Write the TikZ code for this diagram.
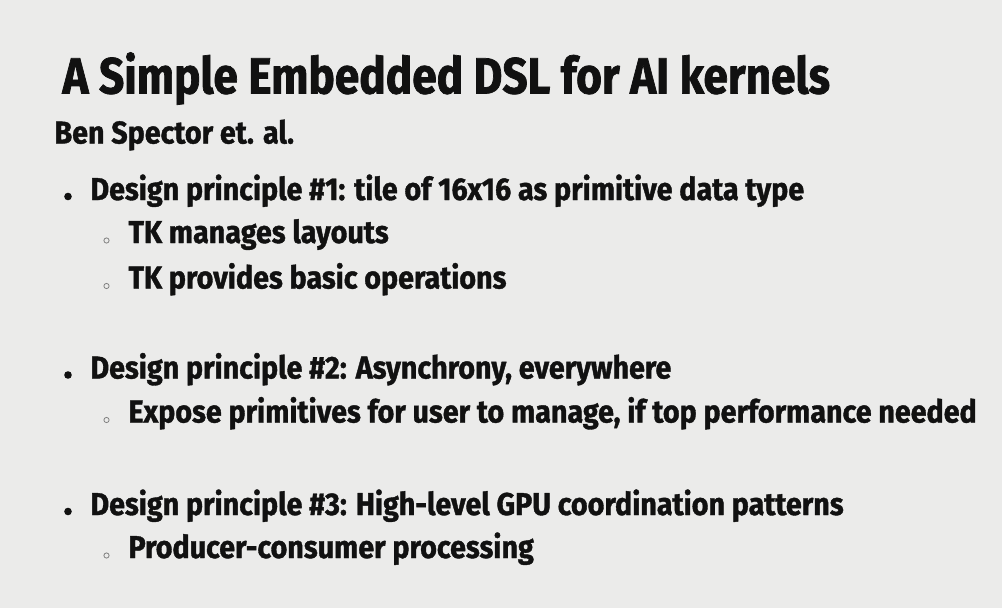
\documentclass[tikz,border=0pt]{standalone}
\usepackage{fontspec}
\setmainfont{Fira Sans}[FakeStretch=0.91, BoldFeatures={FakeBold=1.2}]
\newfontfamily\slidetitlefont{Fira Sans}[FakeStretch=0.87, BoldFeatures={FakeBold=1.4}]
\usepackage{tikz}

\definecolor{slidebg}{HTML}{EBEBEA}
\definecolor{slideink}{HTML}{111111}

\tikzset{
  slide/.style={anchor=base west, inner sep=0pt, text=slideink, font=\bfseries},
  titletext/.style={slide, font=\slidetitlefont\fontsize{50.8}{55}\selectfont\bfseries},
  authortext/.style={slide, font=\fontsize{31.5}{36}\selectfont\bfseries},
  itemtext/.style={slide, font=\fontsize{31.5}{36}\selectfont\bfseries},
  subtext/.style={slide, font=\fontsize{31.5}{36}\selectfont\bfseries},
}

\begin{document}
\begin{tikzpicture}[x=1pt, y=-1pt, line width=1pt]
            \fill[slidebg] (0, 0) rectangle (1002, 608);
            \node[titletext] (title) at (62, 93.5) {A Simple Embedded DSL for AI kernels};
            \node[authortext] (author) at (54, 143.5) {Ben Spector et. al.};
            % principles
            \node[itemtext] (p1) at (90, 200) {Design principle \#1: tile of 16x16 as primitive data type};
            \node[subtext] (p1a) at (128, 243) {TK manages layouts};
            \node[subtext] (p1b) at (128, 288.5) {TK provides basic operations};
            \node[itemtext] (p2) at (90, 378.5) {Design principle \#2: Asynchrony, everywhere};
            \node[subtext] (p2a) at (128, 422.5) {Expose primitives for user to manage, if top performance needed};
            \node[itemtext] (p3) at (90, 515) {Design principle \#3: High-level GPU coordination patterns};
            \node[subtext] (p3a) at (128, 558) {Producer-consumer processing};
            % bullets
            \foreach \y in {200, 378.5, 515} {
                    \fill[slideink] (68, \y-3.5) circle (3.8);
            }
            \foreach \y in {243, 288.5, 422.5, 558} {
                    \draw[gray, line width=0.8pt] (106.5, \y-2.5) circle (2.6);
            }
    \end{tikzpicture}
\end{document}
